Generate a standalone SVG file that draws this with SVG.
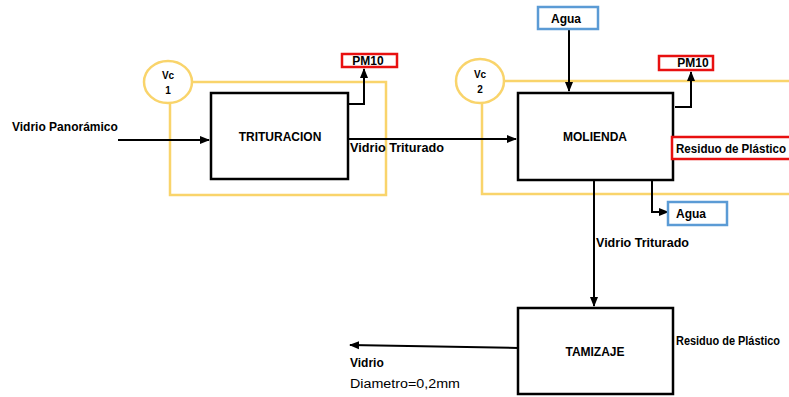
<svg xmlns="http://www.w3.org/2000/svg" width="789" height="397" viewBox="0 0 789 397">
<style>
text{font-family:"Liberation Sans",Arial,sans-serif;font-size:12px;fill:#000}
.b{font-weight:bold}
.box{fill:#fff;stroke:#000;stroke-width:2.5}
.yl{fill:none;stroke:#F9D46B;stroke-width:2.5}
.yc{fill:#fff;stroke:#F9D46B;stroke-width:2.5}
.red{fill:#fff;stroke:#E81010;stroke-width:2.5}
.blue{fill:#fff;stroke:#5B9BD5;stroke-width:2.5}
.c{fill:none;stroke:#000;stroke-width:2}
.vc{font-size:10px;font-weight:bold}
</style>
<defs>
<marker id="ah" viewBox="0 0 10 10" refX="9" refY="5" markerWidth="5" markerHeight="5" orient="auto">
<path d="M0,1 L10,5 L0,9 z" fill="#000"/>
</marker>
</defs>
<g id="vc1">
<path class="yl" d="M191,82 H386 V195 H170 V103"/>
<ellipse class="yc" cx="168" cy="82" rx="24" ry="21"/>
<text class="vc" x="168" y="79" text-anchor="middle">Vc</text>
<text class="vc" x="168" y="94" text-anchor="middle">1</text>
</g>
<g id="vc2">
<path class="yl" d="M503,81 H789 M789,194 H482 V103"/>
<ellipse class="yc" cx="480" cy="81" rx="24" ry="22"/>
<text class="vc" x="480" y="78" text-anchor="middle">Vc</text>
<text class="vc" x="480" y="93" text-anchor="middle">2</text>
</g>
<g id="connectors">
<path class="c" d="M118,140 H209" marker-end="url(#ah)"/>
<path class="c" d="M348,139 H516" marker-end="url(#ah)"/>
<path class="c" d="M347,104 H364 V69" marker-end="url(#ah)"/>
<path class="c" d="M569,29 V91" marker-end="url(#ah)"/>
<path class="c" d="M675,107 H691 V72" marker-end="url(#ah)"/>
<path class="c" d="M652,180 V212 H668" marker-end="url(#ah)"/>
<path class="c" d="M594,180 V306" marker-end="url(#ah)"/>
<path class="c" d="M518,348 L350,345" marker-end="url(#ah)"/>
</g>
<g id="trituracion">
<rect class="box" x="211" y="93" width="137" height="86"/>
<text class="b" x="280" y="141" text-anchor="middle">TRITURACION</text>
</g>
<g id="molienda">
<rect class="box" x="518" y="93" width="155" height="87"/>
<text class="b" x="595" y="141" text-anchor="middle">MOLIENDA</text>
</g>
<g id="tamizaje">
<rect class="box" x="518" y="308" width="155" height="86"/>
<text class="b" x="595" y="356" text-anchor="middle">TAMIZAJE</text>
</g>
<g id="pm10a">
<rect class="red" x="342" y="54" width="55" height="13"/>
<text class="b" x="368" y="65" text-anchor="middle">PM10</text>
</g>
<g id="pm10b">
<rect class="red" x="659" y="56" width="54" height="14"/>
<text class="b" x="693" y="67" text-anchor="middle">PM10</text>
</g>
<g id="agua-in">
<rect class="blue" x="538" y="7" width="60" height="22"/>
<text class="b" x="566" y="23" text-anchor="middle">Agua</text>
</g>
<g id="agua-out">
<rect class="blue" x="668" y="202" width="59" height="23"/>
<text class="b" x="676" y="218">Agua</text>
</g>
<g id="residuo1">
<rect class="red" x="672" y="137" width="120" height="22"/>
<text class="b" x="676" y="153" textLength="110" lengthAdjust="spacingAndGlyphs">Residuo de Plástico</text>
</g>
<g id="labels">
<text class="b" x="12" y="131">Vidrio Panorámico</text>
<text class="b" x="350" y="152" textLength="94" lengthAdjust="spacingAndGlyphs">Vidrio Triturado</text>
<text class="b" x="596" y="247" textLength="93" lengthAdjust="spacingAndGlyphs">Vidrio Triturado</text>
<text class="b" x="676" y="345" textLength="104" lengthAdjust="spacingAndGlyphs">Residuo de Plástico</text>
<text class="b" x="350" y="367">Vidrio</text>
<text x="350" y="388" font-size="13" textLength="110" lengthAdjust="spacingAndGlyphs">Diametro=0,2mm</text>
</g>
</svg>
